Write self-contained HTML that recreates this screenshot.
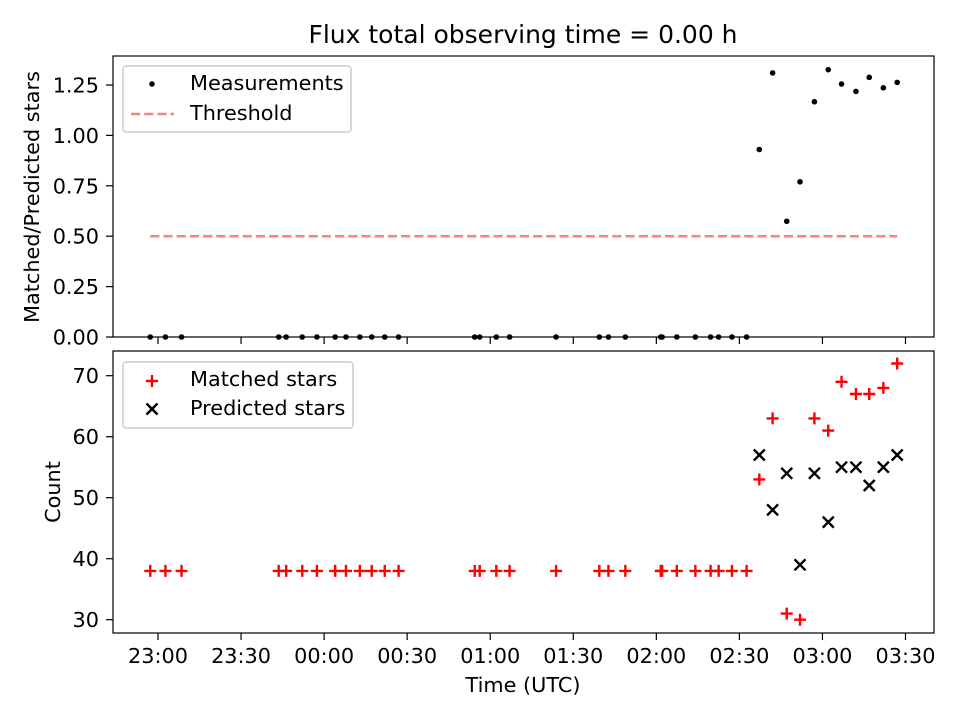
<!DOCTYPE html>
<html><head><meta charset="utf-8"><style>
body{margin:0;background:#fff}
svg{display:block;font-family:"DejaVu Sans","Liberation Sans",sans-serif}
</style></head><body>
<svg id="chart" width="960" height="720" viewBox="0 0 960 720">
<rect width="960" height="720" fill="#fff"/>
<text x="523" y="43" font-size="25" text-anchor="middle">Flux total observing time = 0.00 h</text>
<g id="topg"></g><g id="botg"></g>
</svg>
<script>
// minutes after 23:00 UTC
const timesMin = [-2.8,2.7,8.5,43.6,46.3,52.1,57.4,64.0,67.9,72.9,77.2,81.9,86.9,114.4,116.2,122.2,127.0,143.8,159.4,162.7,168.8,181.6,182.1,187.4,194.1,199.6,202.5,207.3,212.6,
  217.2,222.0,227.1,231.9,237.1,242.1,246.9,252.1,256.9,262.0,267.0];
const matched = [38,38,38,38,38,38,38,38,38,38,38,38,38,38,38,38,38,38,38,38,38,38,38,38,38,38,38,38,38,
  53,63,31,30,63,61,69,67,67,68,72];
const predicted = [null,null,null,null,null,null,null,null,null,null,null,null,null,null,null,null,null,null,null,null,null,null,null,null,null,null,null,null,null,
  57,48,54,39,54,46,55,55,52,55,57];
const ratio = [0,0,0,0,0,0,0,0,0,0,0,0,0,0,0,0,0,0,0,0,0,0,0,0,0,0,0,0,0,
  0.93,1.31,0.574,0.77,1.167,1.326,1.255,1.218,1.288,1.236,1.263];
const threshold = 0.5;
const xTickLabels = ["23:00","23:30","00:00","00:30","01:00","01:30","02:00","02:30","03:00","03:30"];
const xTickMin = [0,30,60,90,120,150,180,210,240,270];
const topTicks = [0,0.25,0.5,0.75,1.0,1.25];
const botTicks = [30,40,50,60,70];

const NS="http://www.w3.org/2000/svg";
const L=113,R=934,FS=20.8,TL=7;
const X=m=>158+m*2.7685;
const YT=v=>337-v*201.6;
const YB=v=>375.7+(70-v)*6.1;
function mk(p,tag,at,txt){const e=document.createElementNS(NS,tag);for(const k in at)e.setAttribute(k,at[k]);if(txt!=null)e.textContent=txt;p.appendChild(e);return e;}
const topG=document.getElementById('topg'),botG=document.getElementById('botg');

function frame(g,y0,y1,name){
  const r=mk(g,'rect',{x:L,y:y0,width:R-L,height:y1-y0,fill:'none',stroke:'#000','stroke-width':1.2});
  
  
}
// top axes
topTicks.forEach(v=>{const y=YT(v);
  const t=mk(topG,'line',{x1:L-TL,x2:L,y1:y,y2:y,stroke:'#000','stroke-width':1.2});
  
  
  const s=mk(topG,'text',{x:L-14,y:y+7.5,'font-size':FS,'text-anchor':'end'},v.toFixed(2));
  
  
});
xTickMin.forEach(m=>{const t=mk(topG,'line',{x1:X(m),x2:X(m),y1:337,y2:337+TL,stroke:'#000','stroke-width':1.2});
  
  });
const yl=mk(topG,'text',{x:39,y:197,'font-size':FS,'text-anchor':'middle',transform:'rotate(-90 39 197)'},'Matched/Predicted stars');


const th=mk(topG,'line',{x1:X(timesMin[0]),x2:X(timesMin[timesMin.length-1]),y1:YT(threshold),y2:YT(threshold),stroke:'#ff7f7f','stroke-width':2.5,'stroke-dasharray':'9.2,4'});


ratio.forEach((v,i)=>{const c=mk(topG,'circle',{cx:X(timesMin[i]),cy:YT(v),r:2.8,fill:'#000'});
  
  });
frame(topG,56,337,'top-axes-frame');
// top legend
const lg1=mk(topG,'g',{});


mk(lg1,'rect',{x:123,y:66,width:228,height:66,rx:3,fill:'#fff','fill-opacity':0.8,stroke:'#ccc','stroke-width':1.5});
mk(lg1,'circle',{cx:152,cy:84,r:2.8,fill:'#000'});
mk(lg1,'text',{x:190,y:90,'font-size':FS},'Measurements');
mk(lg1,'line',{x1:131,x2:174,y1:114,y2:114,stroke:'#ff7f7f','stroke-width':2.5,'stroke-dasharray':'9.2,4'});
mk(lg1,'text',{x:190,y:120,'font-size':FS},'Threshold');

// bottom axes
botTicks.forEach(v=>{const y=YB(v);
  const t=mk(botG,'line',{x1:L-TL,x2:L,y1:y,y2:y,stroke:'#000','stroke-width':1.2});
  
  
  const s=mk(botG,'text',{x:L-14,y:y+7.5,'font-size':FS,'text-anchor':'end'},String(v));
  
  
});
xTickMin.forEach((m,i)=>{
  const t=mk(botG,'line',{x1:X(m),x2:X(m),y1:633,y2:633+TL,stroke:'#000','stroke-width':1.2});
  
  
  const s=mk(botG,'text',{x:X(m),y:663,'font-size':FS,'text-anchor':'middle'},xTickLabels[i]);
  
  
});
const yl2=mk(botG,'text',{x:60,y:492,'font-size':FS,'text-anchor':'middle',transform:'rotate(-90 60 492)'},'Count');


const xl=mk(botG,'text',{x:523,y:692,'font-size':FS,'text-anchor':'middle'},'Time (UTC)');


function plus(g,x,y){return mk(g,'path',{d:`M${x-6} ${y}H${x+6}M${x} ${y-6}V${y+6}`,stroke:'#f00','stroke-width':2.4,fill:'none'});}
function cross(g,x,y){return mk(g,'path',{d:`M${x-5.5} ${y-5.5}L${x+5.5} ${y+5.5}M${x-5.5} ${y+5.5}L${x+5.5} ${y-5.5}`,stroke:'#000','stroke-width':2.4,fill:'none'});}
matched.forEach((v,i)=>{const p=plus(botG,X(timesMin[i]),YB(v));
  
  });
predicted.forEach((v,i)=>{if(v==null)return;const p=cross(botG,X(timesMin[i]),YB(v));
  
  });
frame(botG,351,633,'bottom-axes-frame');
const lg2=mk(botG,'g',{});


mk(lg2,'rect',{x:123,y:362,width:230,height:66,rx:3,fill:'#fff','fill-opacity':0.8,stroke:'#ccc','stroke-width':1.5});
plus(lg2,152,381);
mk(lg2,'text',{x:190,y:386,'font-size':FS},'Matched stars');
cross(lg2,152,409);
mk(lg2,'text',{x:190,y:415,'font-size':FS},'Predicted stars');
</script>
</body></html>
